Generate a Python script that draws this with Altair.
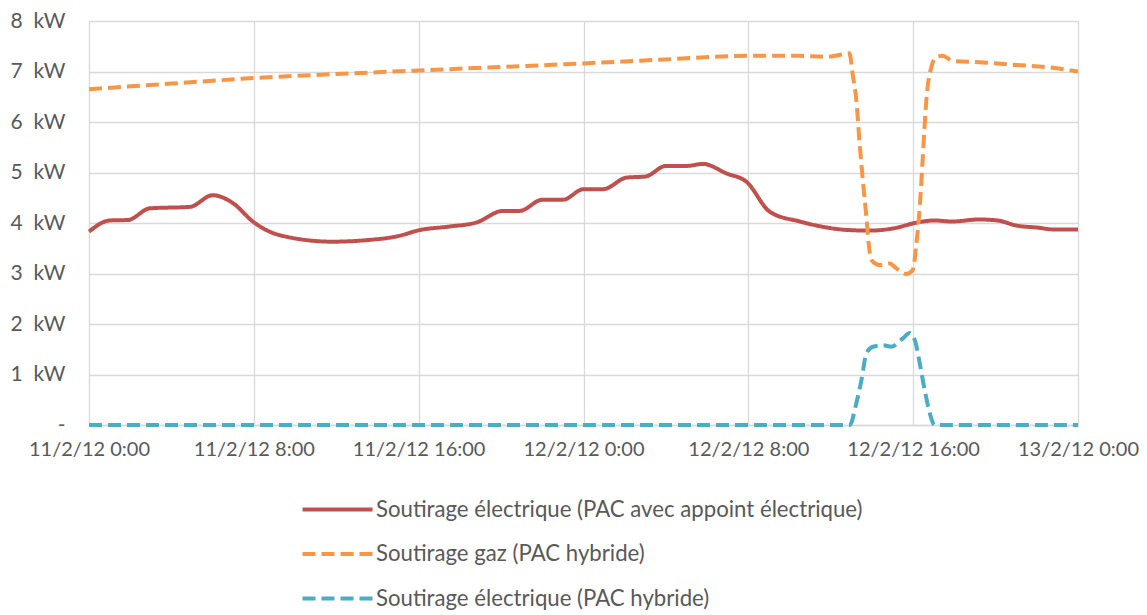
import json
import altair as alt
import pandas as pd

SERIES = [
    "Soutirage électrique (PAC avec appoint électrique)",
    "Soutirage gaz (PAC hybride)",
    "Soutirage électrique (PAC hybride)",
]
COLORS = ["#C0504D", "#F79646", "#4BACC6"]
DASHES = [[1, 0], [13, 6], [13, 6]]

# hours since 11/2/12 0:00 and kW values
RED_H = [0, 1.0, 1.9, 2.95, 4.9, 6.0, 7.0, 7.95, 9.25, 11.8, 13.45, 15.0, 16.05, 17.5,
         18.8, 20.1, 20.9, 22.0, 23.0, 24.0, 24.95, 26.1, 27.0, 28.0, 29.0, 29.8, 30.95,
         31.9, 33.05, 34.5, 36.9, 37.9, 39.0, 40.2, 41.0, 41.9, 43.2, 44.1, 45.0, 46.0,
         46.9, 48]
RED_V = [3.83, 4.05, 4.06, 4.29, 4.32, 4.55, 4.39, 4.03, 3.76, 3.63, 3.66, 3.74, 3.86, 3.93,
         4.01, 4.24, 4.24, 4.46, 4.46, 4.67, 4.67, 4.90, 4.92, 5.13, 5.13, 5.17, 4.98,
         4.82, 4.22, 4.03, 3.86, 3.85, 3.89, 4.01, 4.05, 4.03, 4.07, 4.05, 3.95, 3.91,
         3.87, 3.87]

GAS_H = [0, 4, 8, 12, 16, 20, 24, 28, 32, 34.5, 35.8, 36.6, 36.9, 37.08, 37.24, 37.4,
         37.57, 37.73, 37.84, 37.97, 38.37, 38.86, 39.19, 39.67, 39.98, 40.16, 40.32,
         40.46, 40.64, 40.89, 41.13, 41.43, 41.92, 43.4, 45, 46.65, 48]
GAS_V = [6.65, 6.76, 6.87, 6.95, 7.02, 7.09, 7.16, 7.24, 7.31, 7.31, 7.29, 7.34, 7.36, 6.9,
         6.44, 5.58, 4.79, 4.12, 3.6, 3.27, 3.17, 3.20, 3.10, 2.99, 3.07, 3.6, 4.32,
         5.25, 6.44, 7.10, 7.29, 7.31, 7.21, 7.18, 7.13, 7.08, 7.0]

HYB_H = [0, 8, 16, 24, 32, 36.92, 37.24, 37.49, 37.73, 38.05, 38.54, 38.94, 39.51, 39.83,
         40.08, 40.32, 40.56, 40.81, 41.04, 44, 48]
HYB_V = [0, 0, 0, 0, 0, 0, 0.43, 0.89, 1.42, 1.55, 1.58, 1.55, 1.72, 1.82,
         1.68, 1.22, 0.69, 0.23, 0, 0, 0]

X_TICKS = [0, 8, 16, 24, 32, 40, 48]
X_LABELS = ["11/2/12 0:00", "11/2/12 8:00", "11/2/12 16:00", "12/2/12 0:00",
            "12/2/12 8:00", "12/2/12 16:00", "13/2/12 0:00"]
Y_TICKS = [0, 1, 2, 3, 4, 5, 6, 7, 8]
Y_LABELS = ["-", "1  kW", "2  kW", "3  kW", "4  kW", "5  kW", "6  kW", "7  kW", "8  kW"]

rows = []
for name, hs, vs in [(SERIES[0], RED_H, RED_V), (SERIES[1], GAS_H, GAS_V), (SERIES[2], HYB_H, HYB_V)]:
    for h, v in zip(hs, vs):
        rows.append({"serie": name, "h": h, "kw": v, "ordre": SERIES.index(name)})
df = pd.DataFrame(rows)

y_disp = [lab.replace(" ", "\u00a0") if lab != "-" else "-" + "\u00a0" * 4 for lab in Y_LABELS]
x_expr = json.dumps(X_LABELS, ensure_ascii=False) + "[round(datum.value / 8)]"
y_expr = json.dumps(y_disp, ensure_ascii=False) + "[round(datum.value)]"

FONT = "Lato"
GREY = "#595959"
GRID = "#D9D9D9"


def make_legend():
    return alt.Legend(title=None, orient="none", legendX=229, legendY=469,
                      direction="vertical", symbolType="M-2,0H2",
                      symbolSize=1225, symbolStrokeWidth=4,
                      labelFont=FONT, labelFontSize=22.2, labelColor=GREY,
                      labelOffset=19, rowPadding=13.5, labelLimit=700)


chart = alt.Chart(df).mark_line(interpolate="monotone", strokeWidth=4, strokeCap="butt").encode(
    x=alt.X("h:Q", scale=alt.Scale(domain=[0, 48], nice=False, zero=False),
            axis=alt.Axis(values=X_TICKS, labelExpr=x_expr, title=None, grid=True,
                          gridColor=GRID, gridWidth=1.3, domain=True, domainColor=GRID,
                          domainWidth=1.3, ticks=False, labelPadding=14, labelFont=FONT,
                          labelFontSize=20, labelColor=GREY, labelFlush=False)),
    y=alt.Y("kw:Q", scale=alt.Scale(domain=[0, 8], nice=False),
            axis=alt.Axis(values=Y_TICKS, labelExpr=y_expr, title=None, grid=True,
                          gridColor=GRID, gridWidth=1.3, domain=False, ticks=False,
                          labelPadding=24, labelFont=FONT, labelFontSize=21,
                          labelColor=GREY)),
    color=alt.Color("serie:N", scale=alt.Scale(domain=SERIES, range=COLORS),
                    legend=make_legend()),
    strokeDash=alt.StrokeDash("serie:N", scale=alt.Scale(domain=SERIES, range=DASHES),
                              legend=make_legend()),
    order=alt.Order("ordre:Q"),
).properties(
    width=989, height=404, autosize="none",
    padding={"left": 81, "top": 13, "right": 61, "bottom": 186},
).configure_view(stroke=None)

chart.save("out.html", embed_options={"renderer": "svg", "actions": False})
